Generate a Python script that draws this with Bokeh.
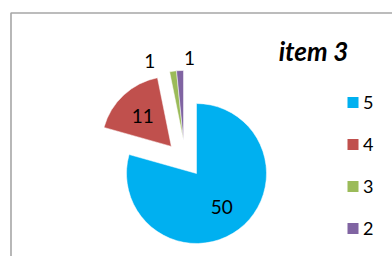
import math
from bokeh.plotting import figure
from bokeh.models import Range1d, ColumnDataSource
from bokeh.core.properties import value
from bokeh.embed import file_html
from bokeh.resources import INLINE

# ---- data ----
categories = ["5", "4", "3", "2"]
counts = [50, 11, 1, 1]
title_text = "item 3"

# ---- style ----
colors = ["#00B0F0", "#C0504D", "#9BBB59", "#8064A2"]
FONT = "Lato"
W, H = 392, 256
CX, CY = 196, 173          # pie centre (page px)
R = 70
explode_dist = [0, 37, 35.5, 35.5]
explode_dir = [None, None, 111.5, 111.5]   # degrees, None -> along mid angle
label_r = [0.6 * R, 0.6 * R, 86, 83]
label_nudge = [0, 0, 14.5, -7]

p = figure(width=W, height=H, output_backend="svg", toolbar_location=None,
           x_range=Range1d(0, W), y_range=Range1d(-H, 0),
           x_axis_type=None, y_axis_type=None, min_border=0)
p.grid.visible = False
p.outline_line_color = None
p.background_fill_color = "white"
p.border_fill_color = "white"

# chart area frame
p.quad(left=[10.5], right=[600], top=[-12.5], bottom=[-600],
       fill_color=None, line_color="#a6a6a6", line_width=1.6)

total = float(sum(counts))
cum = 0.0
wx, wy, sa, ea, lx, ly = [], [], [], [], [], []
for i, v in enumerate(counts):
    start = 90 - cum / total * 360
    end = 90 - (cum + v) / total * 360
    mid = (start + end) / 2
    d = explode_dir[i] if explode_dir[i] is not None else mid
    ox = CX + explode_dist[i] * math.cos(math.radians(d))
    oy = -CY + explode_dist[i] * math.sin(math.radians(d))
    wx.append(ox); wy.append(oy)
    sa.append(math.radians(start)); ea.append(math.radians(end))
    la = math.radians(mid + label_nudge[i])
    lx.append(ox + label_r[i] * math.cos(la))
    ly.append(oy + label_r[i] * math.sin(la))
    cum += v

src = ColumnDataSource(dict(x=wx, y=wy, sa=sa, ea=ea, color=colors,
                            lx=lx, ly=ly, txt=[str(c) for c in counts]))
p.wedge(x="x", y="y", radius=R, start_angle="sa", end_angle="ea",
        direction="clock", fill_color="color", line_color="white",
        line_width=0.5, source=src)
p.text(x="lx", y="ly", text="txt", source=src, text_font=value(FONT),
       text_font_size="19px", text_align="center", text_baseline="middle",
       text_color="#000000")

# title
p.text(x=[313], y=[-50], text=[title_text], text_font=value(FONT),
       text_font_size="26px", text_font_style="bold italic",
       text_align="center", text_baseline="middle", text_color="#000000")

# legend
ly0, lstep = 102, 42
leg = ColumnDataSource(dict(
    x=[352.5] * len(categories),
    y=[-(ly0 + i * lstep) for i in range(len(categories))],
    tx=[362.5] * len(categories),
    color=colors, lab=categories))
p.rect(x="x", y="y", width=11, height=11, fill_color="color",
       line_color=None, source=leg)
p.text(x="tx", y="y", text="lab", source=leg, text_font=value(FONT),
       text_font_size="18px", text_align="left", text_baseline="middle",
       text_color="#000000")

open("out.html", "w").write(file_html(p, INLINE))
